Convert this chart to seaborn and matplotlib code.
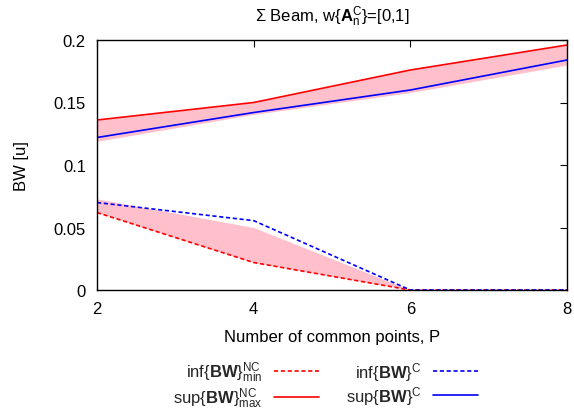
import matplotlib
matplotlib.use("Agg")
import matplotlib.pyplot as plt
import seaborn as sns
import pandas as pd
from matplotlib.lines import Line2D

P = [2, 4, 6, 8]
sup_nc_max = [0.136, 0.150, 0.176, 0.196]
sup_nc_min = [0.119, 0.1405, 0.158, 0.180]
sup_c = [0.122, 0.142, 0.160, 0.184]
inf_nc_min = [0.062, 0.022, 0.0, 0.0]
inf_nc_max = [0.073, 0.050, 0.0, 0.0]
inf_c = [0.070, 0.0555, 0.0, 0.0]

sns.set_theme(style="white")
plt.rcParams['font.family'] = ['Liberation Sans', 'DejaVu Sans']
plt.rcParams['mathtext.fontset'] = 'custom'
plt.rcParams['mathtext.rm'] = 'Liberation Sans'
plt.rcParams['mathtext.bf'] = 'Liberation Sans:bold'
plt.rcParams['mathtext.it'] = 'Liberation Sans:italic'

fig = plt.figure(figsize=(5.74, 4.14), dpi=100)
ax = fig.add_axes([0.169, 0.297, 0.819, 0.604])

ax.fill_between(P, sup_nc_min, sup_nc_max, color='#ffc0cb', lw=0)
ax.fill_between(P, inf_nc_min, inf_nc_max, color='#ffc0cb', lw=0)

df = pd.DataFrame({'P': P, 'a': inf_nc_min, 'b': sup_nc_max, 'c': inf_c, 'd': sup_c})
dash = (2.5, 1.6)
sns.lineplot(data=df, x='P', y='a', ax=ax, color='#ff0000', lw=1.2, linestyle=(0, dash))
sns.lineplot(data=df, x='P', y='b', ax=ax, color='#ff0000', lw=1.2)
sns.lineplot(data=df, x='P', y='c', ax=ax, color='#0000ff', lw=1.2, linestyle=(0, dash))
sns.lineplot(data=df, x='P', y='d', ax=ax, color='#0000ff', lw=1.2)

ax.set_xlim(2, 8)
ax.set_ylim(0, 0.2)
ax.set_xticks([2, 4, 6, 8])
ax.set_xticklabels(['2', '4', '6', '8'])
ax.set_yticks([0, 0.05, 0.1, 0.15, 0.2])
ax.set_yticklabels(['0', '0.05', '0.1', '0.15', '0.2'])
ax.tick_params(direction='in', top=True, right=True, length=5, width=0.8,
               labelsize=12, colors='black', pad=8)
for s in ax.spines.values():
    s.set_visible(True)
    s.set_color('black')
    s.set_linewidth(1.0)

ax.set_xlabel('Number of common points, P', fontsize=12, color='black', labelpad=9)
ax.set_ylabel('BW [u]', fontsize=12, color='black', labelpad=18)
ax.set_title(r'Σ Beam, w$\{\mathbf{A}^{\mathrm{C}}_{\mathrm{n}}\}$=[0,1]', fontsize=12,
             color='black', pad=14)

handles = [
    Line2D([], [], color='#ff0000', lw=1.2, linestyle=(0, dash)),
    Line2D([], [], color='#ff0000', lw=1.2),
    Line2D([], [], color='#0000ff', lw=1.2, linestyle=(0, dash)),
    Line2D([], [], color='#0000ff', lw=1.2),
]
labels = [
    r'inf$\{\mathbf{BW}\}^{\mathrm{NC}}_{\mathrm{min}}$',
    r'sup$\{\mathbf{BW}\}^{\mathrm{NC}}_{\mathrm{max}}$',
    r'inf$\{\mathbf{BW}\}^{\mathrm{C}}$',
    r'sup$\{\mathbf{BW}\}^{\mathrm{C}}$',
]
fig.legend(handles, labels, ncol=2, markerfirst=False, frameon=False,
           loc='center', bbox_to_anchor=(0.567, 0.068), fontsize=12,
           handlelength=2.7, columnspacing=1.6, labelspacing=0.05, handletextpad=0.7)

fig.savefig('out.png', dpi=100)
